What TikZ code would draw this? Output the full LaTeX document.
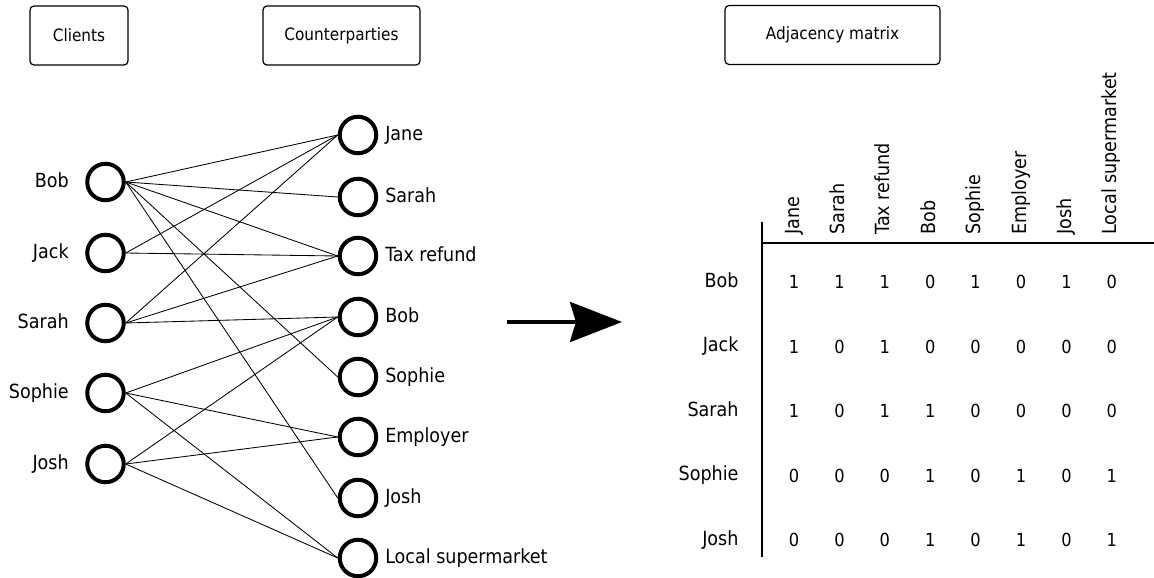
\documentclass[tikz,border=0pt]{standalone}
\usepackage{fontspec}
\setmainfont{DejaVu Sans Condensed}
\usepackage{tikz}
\usetikzlibrary{arrows.meta, positioning}

\begin{document}
\begin{tikzpicture}[x=1pt, y=-1pt]
	\tikzstyle{headbox}=[draw=black, rounded corners=4pt, line width=1.2pt, minimum height=59pt, font=\fontsize{17}{20}\selectfont]
	\tikzstyle{vertex}=[circle, draw=black, line width=4pt, minimum size=36.5pt, inner sep=0pt]
	\tikzstyle{link}=[line width=0.85pt]
	\tikzstyle{lbl}=[font=\fontsize{19.5}{22}\selectfont, text height=14pt, text depth=4pt]
	\tikzstyle{cell}=[font=\fontsize{18}{20}\selectfont]
	\useasboundingbox (0,0) rectangle (1154,578);
	% headings
	\node[headbox, minimum width=98pt] (clients) at (79,35.5) {Clients};
	\node[headbox, minimum width=157pt] (counter) at (341.5,35.5) {Counterparties};
	\node[headbox, minimum width=215pt] (adjhead) at (832.5,35) {Adjacency matrix};
	% clients
	\node (cBob) at (105.5,182) [vertex]{};
	\node (cJack) at (105.5,253) [vertex]{};
	\node (cSarah) at (105.5,323) [vertex]{};
	\node (cSophie) at (105.5,393) [vertex]{};
	\node (cJosh) at (105.5,464) [vertex]{};
	\foreach \c/\lab in {cBob/Bob, cJack/Jack, cSarah/Sarah, cSophie/Sophie, cJosh/Josh}
		\node[lbl, left=13pt of \c] (\c-lab) {\lab};
	% counterparties
	\node (pJane) at (358,135) [vertex]{};
	\node (pSarah) at (358,197) [vertex]{};
	\node (pTax) at (358,256) [vertex]{};
	\node (pBob) at (358,317) [vertex]{};
	\node (pSophie) at (358,377) [vertex]{};
	\node (pEmployer) at (358,437) [vertex]{};
	\node (pJosh) at (358,498) [vertex]{};
	\node (pShop) at (358,558) [vertex]{};
	\foreach \c/\lab in {pJane/Jane, pSarah/Sarah, pTax/Tax refund, pBob/Bob, pSophie/Sophie, pEmployer/Employer, pJosh/Josh, pShop/Local supermarket}
		\node[lbl, right=3.5pt of \c] (\c-lab) {\lab};
	% transactions
	\foreach \a/\b in {cBob/pJane, cBob/pSarah, cBob/pTax, cBob/pSophie, cBob/pJosh,
		cJack/pJane, cJack/pTax,
		cSarah/pJane, cSarah/pTax, cSarah/pBob,
		cSophie/pBob, cSophie/pEmployer, cSophie/pShop,
		cJosh/pBob, cJosh/pEmployer, cJosh/pShop}
		\draw[link] (\a.east) -- (\b.west);
	% arrow
	\coordinate (arrS) at (507,322);
	\coordinate (arrE) at (622,322);
	\draw[line width=4pt, -{Stealth[length=52pt, width=40pt, inset=6pt]}] (arrS) -- (arrE);
	% matrix
	\coordinate (vTop) at (762,222);
	\coordinate (vBot) at (762,557);
	\coordinate (hLeft) at (762,243);
	\coordinate (hRight) at (1154,243);
	\draw[line width=2pt] (vTop) -- (vBot);
	\draw[line width=2pt] (hLeft) -- (hRight);
	\foreach \lab [count=\i from 0] in {Jane, Sarah, Tax refund, Bob, Sophie, Employer, Josh, Local supermarket}
		\node[lbl, rotate=90, anchor=west] (col\i) at (794+45.4*\i,238) {\lab};
	\foreach \lab/\vals [count=\j from 0] in {Bob/{1,1,1,0,1,0,1,0}, Jack/{1,0,1,0,0,0,0,0},
		Sarah/{1,0,1,1,0,0,0,0}, Sophie/{0,0,0,1,0,1,0,1}, Josh/{0,0,0,1,0,1,0,1}}
	{
		\node[lbl, anchor=east] (row\j) at (742,282+64.5*\j) {\lab};
		\foreach \v [count=\i from 0] in \vals
			\node[cell] (m\j\i) at (794+45.4*\i,282+64.5*\j) {\v};
	}
\end{tikzpicture}
\end{document}
